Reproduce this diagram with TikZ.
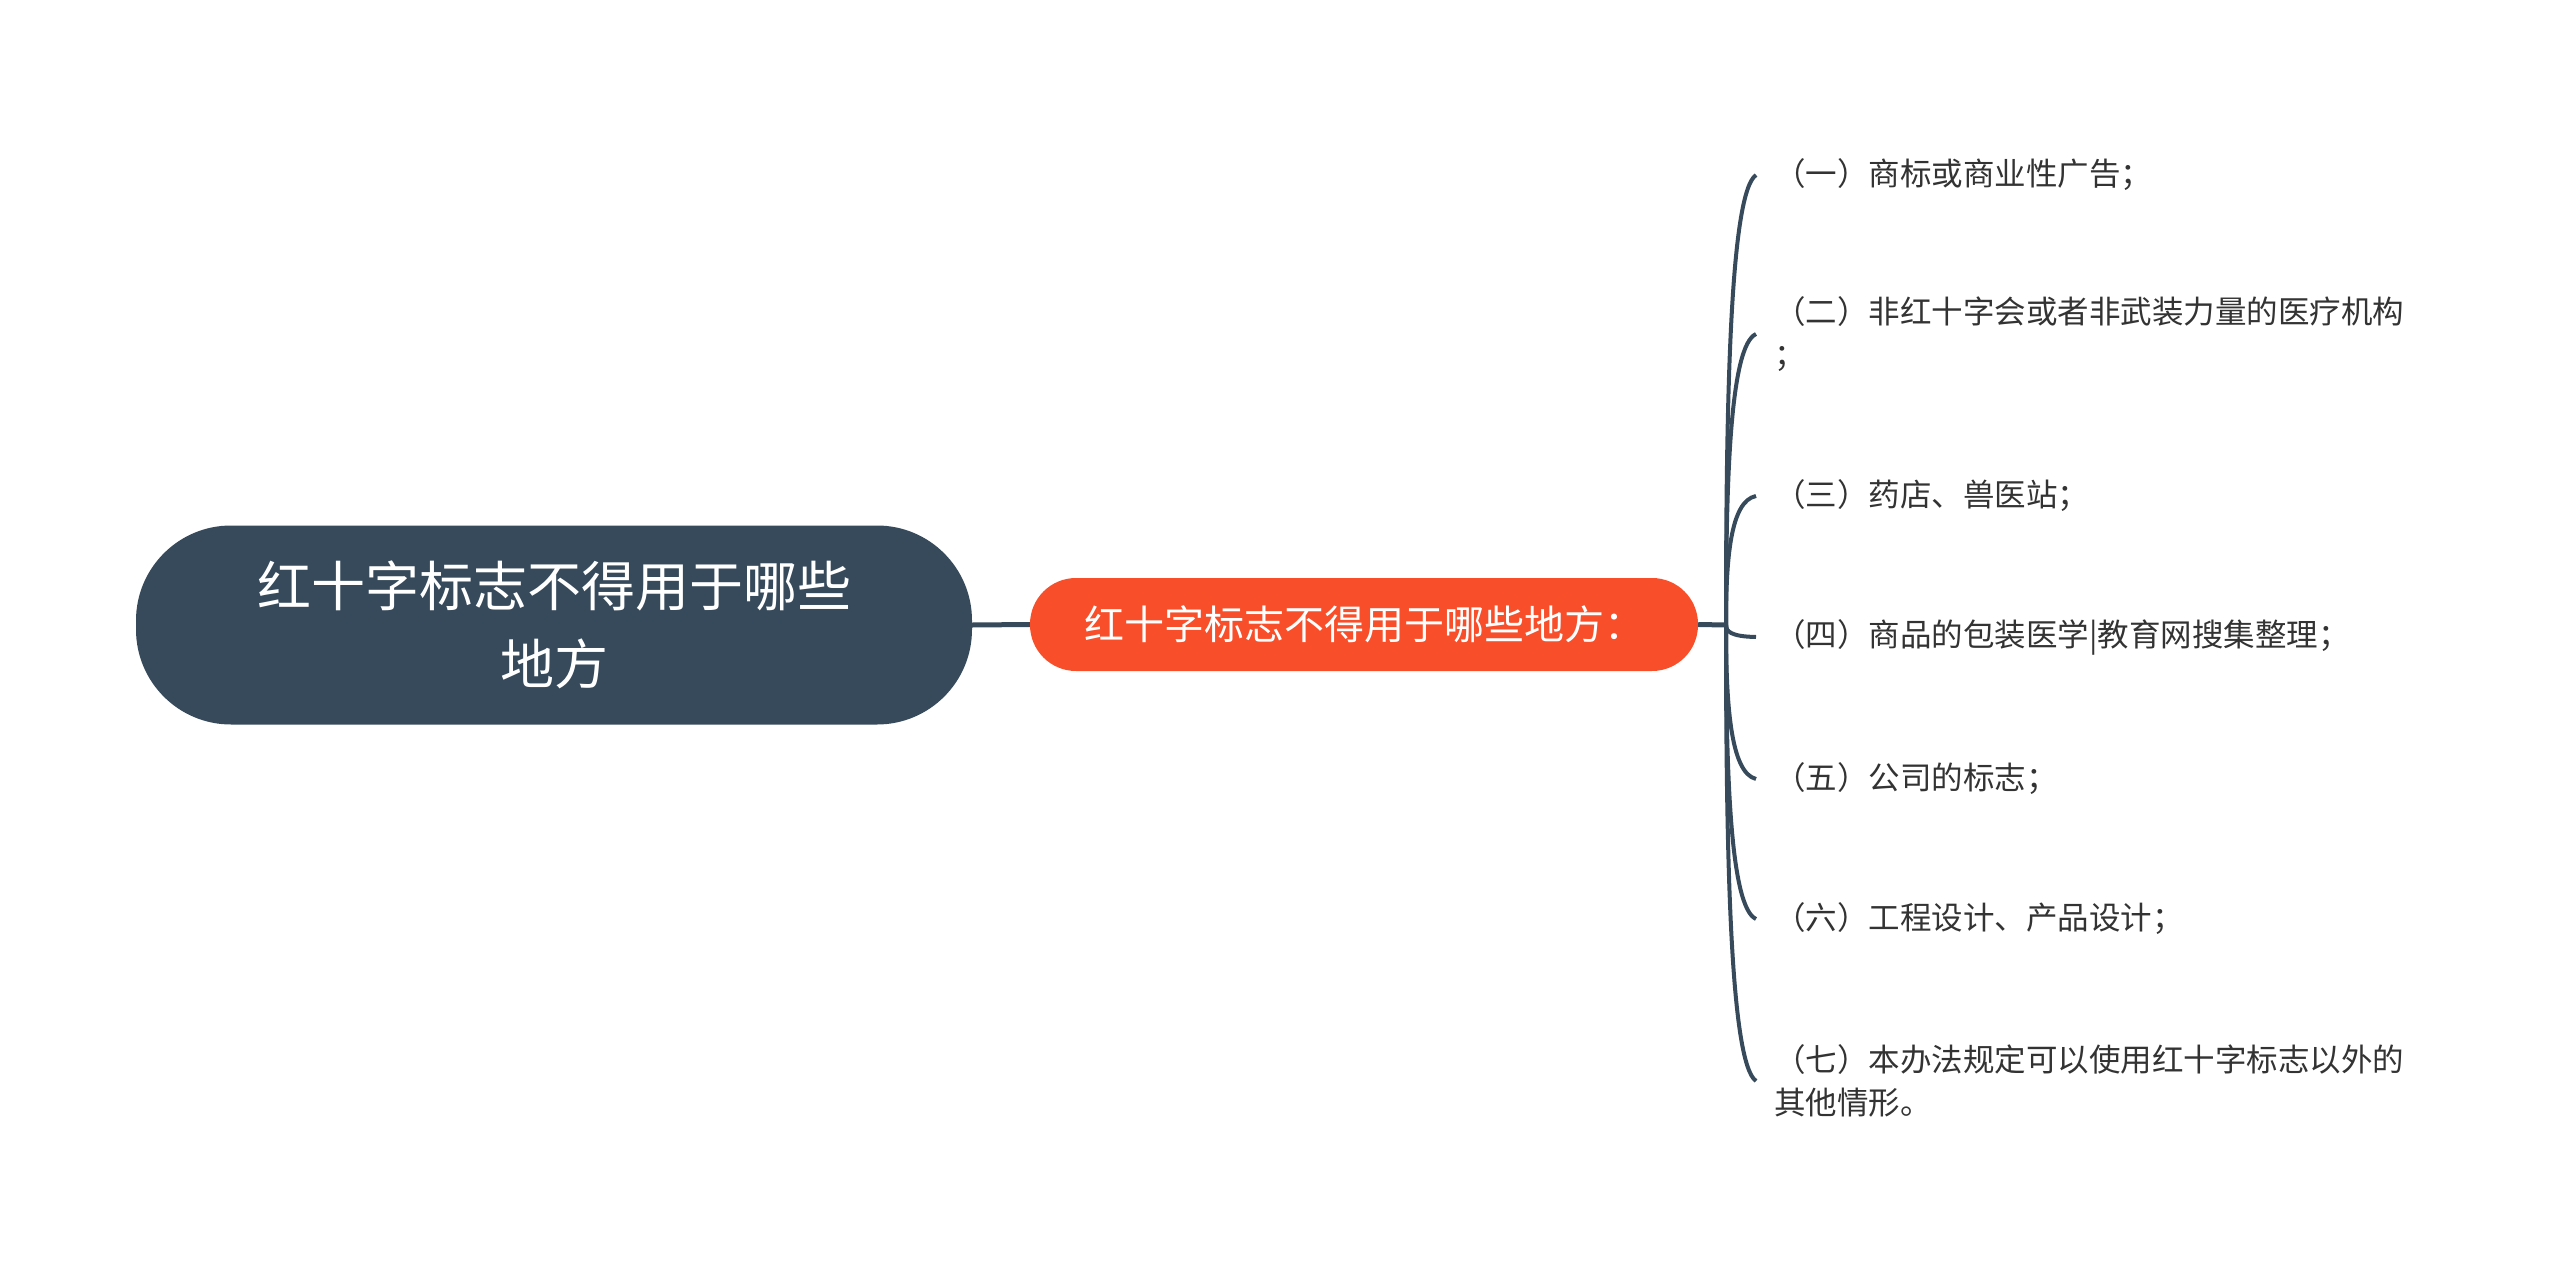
\documentclass[tikz,border=0pt]{standalone}
\usepackage{fontspec}
\setmainfont{Noto Sans CJK SC}
\definecolor{rootfill}{HTML}{364A5B}
\definecolor{midfill}{HTML}{F94E2A}
\definecolor{linecol}{HTML}{364A5B}
\definecolor{leaftext}{HTML}{333333}
\begin{document}
\begin{tikzpicture}[x=1pt,y=-1pt,
  rootbox/.style={fill=rootfill, text=white, rounded corners=95pt, minimum width=836pt, minimum height=199pt, inner sep=0pt, align=center, font=\fontsize{54}{78}\selectfont},
  midbox/.style={fill=midfill, text=white, rounded corners=46pt, minimum width=668pt, minimum height=93pt, inner sep=0pt, align=center, font=\fontsize{40}{50}\selectfont},
  leaf/.style={anchor=west, text=leaftext, inner xsep=18pt, inner ysep=0pt, align=left, font=\fontsize{31.5}{43}\selectfont},
  conn/.style={draw=linecol, line width=5pt},
  branch/.style={draw=linecol, line width=4pt}]
\useasboundingbox (0,0) rectangle (2560,1271);
\node[rootbox] (root) at (554,625) {红十字标志不得用于哪些\\地方};
\node[midbox] (mid) at (1364,624.5) {红十字标志不得用于哪些地方：};
\coordinate (j) at (1726,625);
\node[leaf] (c1) at (1756,175) {（一）商标或商业性广告；};
\node[leaf] (c2) at (1756,334) {（二）非红十字会或者非武装力量的医疗机构\\；};
\node[leaf] (c3) at (1756,496) {（三）药店、兽医站；};
\node[leaf] (c4) at (1756,637) {（四）商品的包装医学|教育网搜集整理；};
\node[leaf] (c5) at (1756,779) {（五）公司的标志；};
\node[leaf] (c6) at (1756,919) {（六）工程设计、产品设计；};
\node[leaf] (c7) at (1756,1081) {（七）本办法规定可以使用红十字标志以外的\\其他情形。};
\draw[conn] (root.east) -- (mid.west);
\draw[conn] (mid.east) -- (j);
\draw[branch] (j) .. controls (1726,400) and (1730,193) .. (c1.west);
\draw[branch] (j) .. controls (1726,479.5) and (1730,345.6) .. (c2.west);
\draw[branch] (j) .. controls (1726,560.5) and (1730,501) .. (c3.west);
\draw[branch] (j) .. controls (1726,631) and (1730,636.5) .. (c4.west);
\draw[branch] (j) .. controls (1726,702) and (1730,772.8) .. (c5.west);
\draw[branch] (j) .. controls (1726,772) and (1730,907.2) .. (c6.west);
\draw[branch] (j) .. controls (1726,853) and (1730,1062.8) .. (c7.west);
\end{tikzpicture}
\end{document}
